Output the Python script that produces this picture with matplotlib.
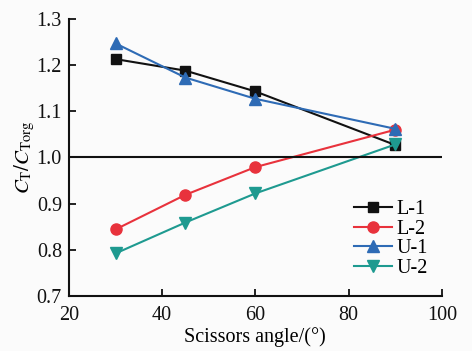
import matplotlib
matplotlib.use("Agg")
import matplotlib.pyplot as plt

plt.rcParams['font.family'] = ['Liberation Serif', 'DejaVu Serif']
plt.rcParams['mathtext.fontset'] = 'stix'

angles = [30, 45, 60, 90]
L1 = [1.213, 1.188, 1.143, 1.027]
L2 = [0.844, 0.919, 0.979, 1.060]
U1 = [1.247, 1.173, 1.127, 1.062]
U2 = [0.792, 0.859, 0.922, 1.028]

fig = plt.figure(figsize=(4.72, 3.51), dpi=100, facecolor='#fbfbfb')
ax = fig.add_axes([0.146, 0.157, 0.790, 0.789])
ax.set_facecolor('#fbfbfb')

ax.plot(angles, L1, color='#111111', marker='s', ms=7, lw=1.5, label='L-1')
ax.plot(angles, L2, color='#e8323c', marker='o', ms=8, lw=1.5, label='L-2')
ax.plot(angles, U1, color='#2e6bb5', marker='^', ms=8, lw=1.5, label='U-1')
ax.plot(angles, U2, color='#1e9a90', marker='v', ms=8, lw=1.5, label='U-2')
ax.axhline(1.0, color='#111111', lw=1.5)

ax.set_xlim(20, 100)
ax.set_ylim(0.7, 1.3)
ax.set_xticks([20, 40, 60, 80, 100])
ax.set_yticks([0.7, 0.8, 0.9, 1.0, 1.1, 1.2, 1.3])
ax.set_yticklabels(['0.7', '0.8', '0.9', '1.0', '1.1', '1.2', '1.3'])
for s in ['top', 'right']:
    ax.spines[s].set_visible(False)
for s in ['left', 'bottom']:
    ax.spines[s].set_linewidth(1.5)
    ax.spines[s].set_color('#111111')
ax.tick_params(direction='in', length=5, width=1.3, labelsize=14.5, colors='#111111')
ax.tick_params(axis='x', pad=7)
ax.tick_params(axis='y', pad=5)
ax.set_xlabel('Scissors angle/(°)', fontsize=14.5, labelpad=2)
ax.set_ylabel(r'$C_{\mathrm{T}}/C_{\mathrm{Torg}}$', fontsize=15, labelpad=0)

ax.legend(loc='center right', bbox_to_anchor=(1.0, 0.205), frameon=False, fontsize=14.5,
          handlelength=1.9, handletextpad=0.2, labelspacing=0.02, borderpad=0.2)

fig.savefig('out.png', dpi=100, facecolor=fig.get_facecolor())
